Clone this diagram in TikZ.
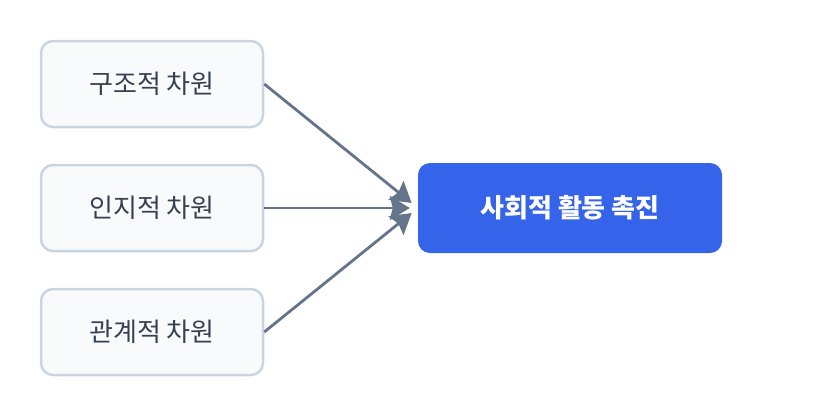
\documentclass[tikz,border=0pt]{standalone}
\usepackage{fontspec}
\newfontfamily\krfont{Noto Sans CJK KR}
\usepackage{tikz}
\usetikzlibrary{arrows.meta,positioning}
\definecolor{dimfill}{HTML}{F8FAFC}
\definecolor{dimline}{HTML}{CBD5E1}
\definecolor{dimtext}{HTML}{374151}
\definecolor{goalblue}{HTML}{3563E9}
\definecolor{pilgray}{HTML}{64748B}
\tikzset{
    %Define style for the three source boxes
    dimension/.style={
           rectangle,
           rounded corners=12pt,
           draw=dimline, line width=2.5pt,
           fill=dimfill,
           minimum width=222pt,
           minimum height=86pt,
           font=\krfont\fontsize{26}{30}\selectfont,
           text=dimtext,
           text centered},
    %Define style for the target box
    goal/.style={
           rectangle,
           rounded corners=12pt,
           fill=goalblue,
           minimum width=304pt,
           minimum height=90pt,
           font=\krfont\bfseries\fontsize{26}{30}\selectfont,
           text=white,
           text centered},
    % Define arrow style
    pil/.style={
           -{Stealth[length=20pt,width=24pt,inset=3pt]},
           draw=pilgray,
           line width=2.8pt,
           shorten >=8pt}
}
\begin{document}
\begin{tikzpicture}[x=1pt,y=-1pt]
\useasboundingbox (0,0) rectangle (840,416);
 %nodes
\node[dimension] (struct) at (152,84) {구조적 차원};
\node[dimension] (cogn) at (152,208) {인지적 차원};
\node[dimension] (relat) at (152,332) {관계적 차원};
\node[goal] (social) at (570,208) {사회적 활동 촉진};
 %connectors
\draw[pil] (struct.east) -- (social.west);
\draw[pil] (cogn.east) -- (social.west);
\draw[pil] (relat.east) -- (social.west);
\end{tikzpicture}
\end{document}
